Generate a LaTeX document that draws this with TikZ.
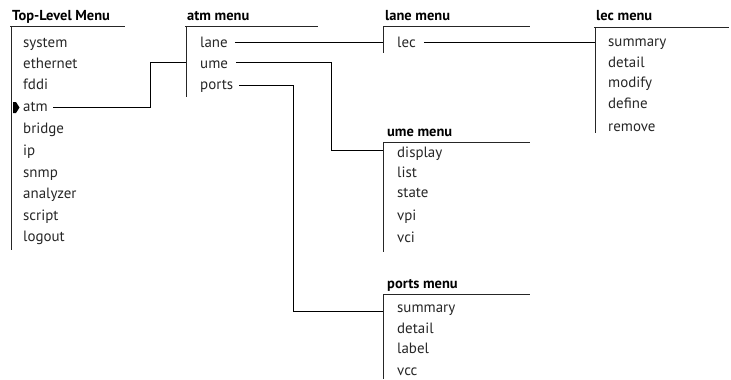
\documentclass[tikz,border=0pt]{standalone}
\usepackage{fontspec}
\setmainfont{PT Sans}
\begin{document}
\begin{tikzpicture}[x=1bp,y=-1bp,
  item/.style={anchor=base west,inner sep=0pt,font=\fontsize{15}{17}\selectfont,text=black!85},
  title/.style={anchor=base west,inner sep=0pt,font=\fontsize{14.5}{17}\selectfont\bfseries},
  rule/.style={line width=0.8bp,black!85},
  link/.style={line width=0.8bp,black}]
\useasboundingbox (0,0) rectangle (731,379);

% Top-level menu
\node[title] (topT) at (12,20) {Top-Level Menu};
\draw[rule] (10,26) -- (125,26) (11,26) -- (11,250);
\foreach \n/\t/\y in {sys/system/47, eth/ethernet/68, fddi/fddi/89, atm/atm/111,
  bri/bridge/133, ip/ip/155, snmp/snmp/177, ana/analyzer/198, scr/script/220, log/logout/241}
  \node[item] (\n) at (23,\y) {\t};
\fill (13,102) -- (16,102) -- (19.5,107.5) -- (16,113) -- (13,113) -- cycle;

% atm menu
\node[title] (atmT) at (187,20) {atm menu};
\draw[rule] (185,26) -- (318,26) (186,26) -- (186,97);
\coordinate (atmIn) at (186,62);
\node[item] (lane) at (200,47) {lane};
\node[item] (ume) at (200,68) {ume};
\node[item] (ports) at (200,89) {ports};

% lane menu
\node[title] (laneT) at (385,20) {lane menu};
\draw[rule] (383,26) -- (530,26) (383,26) -- (383,53);
\coordinate (laneIn) at (383,42);
\node[item] (lec) at (397,47) {lec};

% lec menu
\node[title] (lecT) at (596,20) {lec menu};
\draw[rule] (594,27) -- (729,27) (595,27) -- (595,133);
\coordinate (lecIn) at (595,42);
\foreach \n/\t/\y in {lsum/summary/46, ldet/detail/67, lmod/modify/87, ldef/define/108, lrem/remove/131}
  \node[item] (\n) at (608,\y) {\t};

% ume menu
\node[title] (umeT) at (387,136) {ume menu};
\draw[rule] (383,142) -- (530,142) (383,142) -- (383,252);
\coordinate (umeIn) at (383,150);
\foreach \n/\t/\y in {udis/display/157, ulis/list/177, usta/state/197, uvpi/vpi/220, uvci/vci/242}
  \node[item] (\n) at (397,\y) {\t};

% ports menu
\node[title] (portT) at (387,288) {ports menu};
\draw[rule] (383,294) -- (530,294) (383,294) -- (383,379);
\coordinate (portIn) at (383,311);
\foreach \n/\t/\y in {psum/summary/312, pdet/detail/333, plab/label/353, pvcc/vcc/375}
  \node[item] (\n) at (397,\y) {\t};

% connectors
\coordinate (b1) at (150,0);
\coordinate (b2) at (331,0);
\coordinate (b3) at (293,0);
\draw[link] ([shift={(5,-4)}]atm.base east) -| (b1 |- atmIn) -- (atmIn);
\draw[link] ([shift={(7,-5)}]lane.base east) -- (laneIn);
\draw[link] ([shift={(8,-5)}]lec.base east) -- (lecIn);
\draw[link] ([shift={(8,-6)}]ume.base east) -| (b2 |- umeIn) -- (umeIn);
\draw[link] ([shift={(6,-4)}]ports.base east) -| (b3 |- portIn) -- (portIn);
\end{tikzpicture}
\end{document}
